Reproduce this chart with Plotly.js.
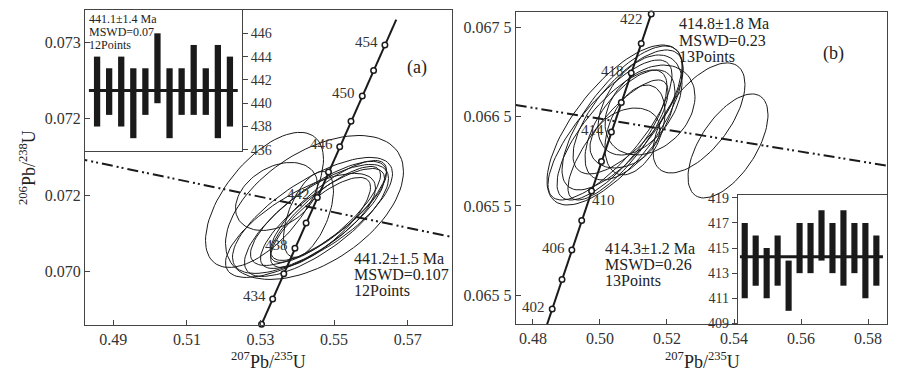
<!DOCTYPE html>
<html>
<head>
<meta charset="utf-8">
<script src="https://cdn.plot.ly/plotly-3.0.1.min.js"></script>
<style>
  html, body { margin: 0; padding: 0; background: #fff; }
  #chart { width: 903px; height: 382px; }
</style>
</head>
<body>
<div id="chart"></div>
<script>
/* U-Pb concordia diagrams (a) and (b) with weighted-mean insets */

// ---- panel (a): concordia ticks, 2 Ma apart ----
const concAgeA = [432, 434, 436, 438, 440, 442, 444, 446, 448, 450, 452, 454, 456];
const concXA = [0.53029, 0.53331, 0.53633, 0.53936, 0.54239, 0.54544, 0.54848, 0.55153, 0.55459, 0.55766, 0.56073, 0.56381, 0.56689];
const concYA = [0.069311, 0.069642, 0.069974, 0.070306, 0.070638, 0.070971, 0.071303, 0.071635, 0.071968, 0.072300, 0.072633, 0.072966, 0.073299];
const markAgeA = [432, 454];           // first / last circle
const labelAgeA = [434, 438, 442, 446, 450, 454];

// ---- panel (b) ----
const concAgeB = [400, 402, 404, 406, 408, 410, 412, 414, 416, 418, 420, 422];
const concXB = [0.48281, 0.48574, 0.48866, 0.49160, 0.49454, 0.49749, 0.50044, 0.50340, 0.50636, 0.50933, 0.51231, 0.51529];
const concYB = [0.064016, 0.064346, 0.064676, 0.065006, 0.065337, 0.065668, 0.065998, 0.066329, 0.066660, 0.066991, 0.067322, 0.067653];
const markAgeB = [402, 422];
const labelAgeB = [402, 406, 410, 414, 418, 422];

// ---- error ellipses: centre, half-width x, half-width y, correlation ----
const ellXA   = [0.53435, 0.53109, 0.54467, 0.54413, 0.54576, 0.54685, 0.54522, 0.54766, 0.54630, 0.54087, 0.54848, 0.54304];
const ellYA   = [0.070984, 0.070939, 0.070840, 0.070736, 0.070762, 0.070696, 0.070670, 0.070749, 0.070644, 0.070605, 0.070801, 0.070749];
const ellSXA  = [0.01114, 0.01603, 0.02418, 0.02174, 0.01848, 0.01685, 0.01957, 0.01495, 0.01359, 0.02038, 0.01576, 0.00679];
const ellSYA  = [0.000445, 0.000884, 0.000942, 0.000759, 0.000681, 0.000654, 0.000733, 0.000628, 0.000589, 0.000681, 0.000654, 0.000563];
const ellRhoA = [0.35, 0.6, 0.5, 0.72, 0.78, 0.8, 0.75, 0.82, 0.78, 0.72, 0.8, 0.55];

const ellXB   = [0.52955, 0.53821, 0.50448, 0.50657, 0.50836, 0.50358, 0.50896, 0.51194, 0.50537, 0.51045, 0.50746, 0.50299, 0.51493];
const ellYB   = [0.066487, 0.066173, 0.066408, 0.066487, 0.066554, 0.066296, 0.066408, 0.066632, 0.066240, 0.066352, 0.066262, 0.066352, 0.066576];
const ellSXB  = [0.01373, 0.01194, 0.02030, 0.01791, 0.01642, 0.01642, 0.01343, 0.01254, 0.01493, 0.00896, 0.01045, 0.01851, 0.01343];
const ellSYB  = [0.000617, 0.000583, 0.000897, 0.000807, 0.000695, 0.000729, 0.000617, 0.000561, 0.000673, 0.000504, 0.000336, 0.000785, 0.000504];
const ellRhoB = [0.61, 0.6, 0.7, 0.72, 0.7, 0.75, 0.6, 0.45, 0.8, 0.4, 0.3, 0.78, 0.3];

// ---- discordia (dash-dot) lines ----
const discXA = [0.48, 0.585];
const discYA = [0.071484, 0.070423];
const discXB = [0.47484, 0.58567];
const discYB = [0.066632, 0.065952];

// ---- weighted-mean insets (ages in Ma) ----
const lowA  = [438, 439, 438, 437, 439, 440, 437, 439, 439, 439, 437, 438];
const highA = [444, 443, 444, 443, 443, 446, 443, 443, 445, 443, 445, 444];
const meanA = 441.1;
const lowB  = [411, 412, 411, 412, 410, 413, 413, 414, 413, 412, 413, 411, 412];
const highB = [417, 416, 415, 416, 414, 417, 417, 418, 417, 418, 417, 417, 416];
const meanB = 414.3;

// ---- tick labels as printed ----
const tickYA = [0.070, 0.071, 0.072, 0.073];
const tickYAText = ['0.070', '0.072', '0.072', '0.073'];
const tickYB = [0.0645, 0.0655, 0.0665, 0.0675];
const tickYBText = ['0.065 5', '0.065 5', '0.066 5', '0.067 5'];
const tickXA = [0.49, 0.51, 0.53, 0.55, 0.57];
const tickXB = [0.48, 0.50, 0.52, 0.54, 0.56, 0.58];

const SERIF = '"Liberation Serif", "Times New Roman", serif';
const INK = '#1a1a1a';

function ellipsePath(cx, cy, sx, sy, rho) {
  const xs = [], ys = [];
  const k = Math.sqrt(1 - rho * rho);
  for (let i = 0; i <= 90; i++) {
    const t = i / 90 * 2 * Math.PI;
    xs.push(cx + sx * Math.cos(t));
    ys.push(cy + sy * (rho * Math.cos(t) + k * Math.sin(t)));
  }
  return { xs, ys };
}

function panelTraces(ax, ay, cx, cy, sx, sy, rho, ages, px, py, marks, dx, dy) {
  const out = [];
  cx.forEach((_, i) => {
    const e = ellipsePath(cx[i], cy[i], sx[i], sy[i], rho[i]);
    out.push({ x: e.xs, y: e.ys, xaxis: ax, yaxis: ay, mode: 'lines',
      line: { color: INK, width: 1 }, hoverinfo: 'skip' });
  });
  out.push({ x: dx, y: dy, xaxis: ax, yaxis: ay, mode: 'lines',
    line: { color: INK, width: 2, dash: '11px,4px,2px,3px,2px,4px' }, hoverinfo: 'skip' });
  out.push({ x: px, y: py, xaxis: ax, yaxis: ay, mode: 'lines',
    line: { color: INK, width: 2 }, hoverinfo: 'skip' });
  const mi = ages.map((a, i) => i).filter(i => ages[i] >= marks[0] && ages[i] <= marks[1]);
  out.push({ x: mi.map(i => px[i]), y: mi.map(i => py[i]), xaxis: ax, yaxis: ay, mode: 'markers',
    marker: { symbol: 'circle', size: 5.5, color: '#fff', line: { color: INK, width: 1.5 } },
    cliponaxis: false, hoverinfo: 'skip' });
  return out;
}

// age labels along the concordia, as annotations in data coordinates
function ageLabels(xr, yr, ages, px, py, labels, place) {
  return labels.map(a => {
    const i = ages.indexOf(a);
    const p = place(a);
    return { text: String(a), x: px[i], y: py[i], xref: xr, yref: yr, showarrow: false,
      xanchor: p.anchor, yanchor: 'middle', xshift: p.dx, yshift: p.dy,
      font: { family: SERIF, size: 15, color: '#333' } };
  });
}

const traces = [
  ...panelTraces('x', 'y', ellXA, ellYA, ellSXA, ellSYA, ellRhoA, concAgeA, concXA, concYA,
    markAgeA, discXA, discYA),
  ...panelTraces('x2', 'y2', ellXB, ellYB, ellSXB, ellSYB, ellRhoB, concAgeB, concXB, concYB,
    markAgeB, discXB, discYB),
  { type: 'bar', xaxis: 'x3', yaxis: 'y3', x: lowA.map((_, i) => i + 1), base: lowA,
    y: highA.map((h, i) => h - lowA[i]), width: 0.52, marker: { color: INK }, hoverinfo: 'skip' },
  { type: 'bar', xaxis: 'x4', yaxis: 'y4', x: lowB.map((_, i) => i + 1), base: lowB,
    y: highB.map((h, i) => h - lowB[i]), width: 0.56, marker: { color: INK }, hoverinfo: 'skip' }
];

const frame = {
  showline: true, mirror: true, linecolor: '#444', linewidth: 1,
  showgrid: false, zeroline: false, tickcolor: '#444',
  tickfont: { family: SERIF, size: 16, color: '#333' }
};

// pixel -> paper helpers
const W = 903, H = 382;
const px = v => v / W;
const py = v => 1 - v / H;

function note(text, x, y, size, anchor, extra) {
  return Object.assign({ text, x: px(x), y: py(y), xref: 'paper', yref: 'paper',
    xanchor: anchor || 'left', yanchor: 'middle', showarrow: false,
    font: { family: SERIF, size, color: '#222' } }, extra || {});
}

const labelsA = ageLabels('x', 'y', concAgeA, concXA, concYA, labelAgeA,
  () => ({ anchor: 'right', dx: -5, dy: 3 }));
const labelsB = ageLabels('x2', 'y2', concAgeB, concXB, concYB, labelAgeB, a => {
  if (a === 410) return { anchor: 'left', dx: -2, dy: -9 };
  if (a === 422) return { anchor: 'right', dx: -6, dy: -5 };
  return { anchor: 'right', dx: -5, dy: 2 };
});

const layout = {
  width: W, height: H,
  margin: { l: 0, r: 0, t: 0, b: 0 },
  paper_bgcolor: '#fff', plot_bgcolor: 'rgba(0,0,0,0)',
  showlegend: false, barmode: 'overlay',
  xaxis: { ...frame, domain: [px(85), px(452)], range: [0.48231, 0.58204], anchor: 'y',
    ticks: 'inside', ticklen: 5, tickvals: tickXA, tickformat: '.2f' },
  yaxis: { ...frame, domain: [py(325), py(10)], range: [0.069302, 0.073424], anchor: 'x',
    ticks: 'inside', ticklen: 5, tickvals: tickYA, ticktext: tickYAText },
  xaxis2: { ...frame, domain: [px(515.7), px(887)], range: [0.47484, 0.58567], anchor: 'y2',
    ticks: 'inside', ticklen: 5, tickvals: tickXB, tickformat: '.2f' },
  yaxis2: { ...frame, domain: [py(324), py(11.7)], range: [0.064177, 0.067678], anchor: 'x2',
    ticks: 'inside', ticklen: 5, tickvals: tickYB, ticktext: tickYBText },
  xaxis3: { ...frame, domain: [px(85), px(242)], range: [0, 13], anchor: 'y3',
    ticks: '', showticklabels: false },
  yaxis3: { ...frame, domain: [py(151), py(10)], range: [435.9, 448], anchor: 'x3', side: 'right',
    ticks: 'outside', ticklen: 5, tickvals: [436, 438, 440, 442, 444, 446],
    tickfont: { family: SERIF, size: 14, color: '#333' } },
  xaxis4: { ...frame, domain: [px(737.7), px(887)], range: [0.36, 13.97], anchor: 'y4',
    ticks: '', showticklabels: false },
  yaxis4: { ...frame, domain: [py(324), py(195.3)], range: [408.95, 419.2], anchor: 'x4',
    ticks: 'outside', ticklen: 5, tickvals: [409, 411, 413, 415, 417, 419],
    tickfont: { family: SERIF, size: 14, color: '#333' } },
  shapes: [
    { type: 'line', xref: 'x3 domain', yref: 'y3', x0: 0.025, x1: 0.973, y0: meanA, y1: meanA,
      line: { color: INK, width: 3 } },
    { type: 'line', xref: 'x4 domain', yref: 'y4', x0: 0.015, x1: 0.973, y0: meanB, y1: meanB,
      line: { color: INK, width: 3 } }
  ],
  annotations: [
    ...labelsA,
    ...labelsB,
    note('(a)', 417, 68, 18, 'center'),
    note('(b)', 833, 53, 18, 'center'),
    note('441.2±1.5 Ma', 352, 258, 16),
    note('MSWD=0.107', 352, 274, 16),
    note('12Points', 352, 290, 16),
    note('441.1±1.4 Ma', 87, 18.5, 12),
    note('MSWD=0.07', 87, 31.5, 12),
    note('12Points', 87, 44.5, 12),
    note('414.8±1.8 Ma', 677, 23.5, 16),
    note('MSWD=0.23', 677, 40, 16),
    note('13Points', 677, 56.5, 16),
    note('414.3±1.2 Ma', 603, 248, 16),
    note('MSWD=0.26', 603, 264, 16),
    note('13Points', 603, 280, 16),
    note('<sup>207</sup>Pb/<sup>235</sup>U', 268, 360, 18, 'center'),
    note('<sup>207</sup>Pb/<sup>235</sup>U', 702, 360, 18, 'center'),
    note('<sup>206</sup>Pb/<sup>238</sup>U', 27, 168, 18, 'center', { textangle: -90 })
  ]
};

Plotly.newPlot('chart', traces, layout, { staticPlot: true, displayModeBar: false });
</script>
</body>
</html>
